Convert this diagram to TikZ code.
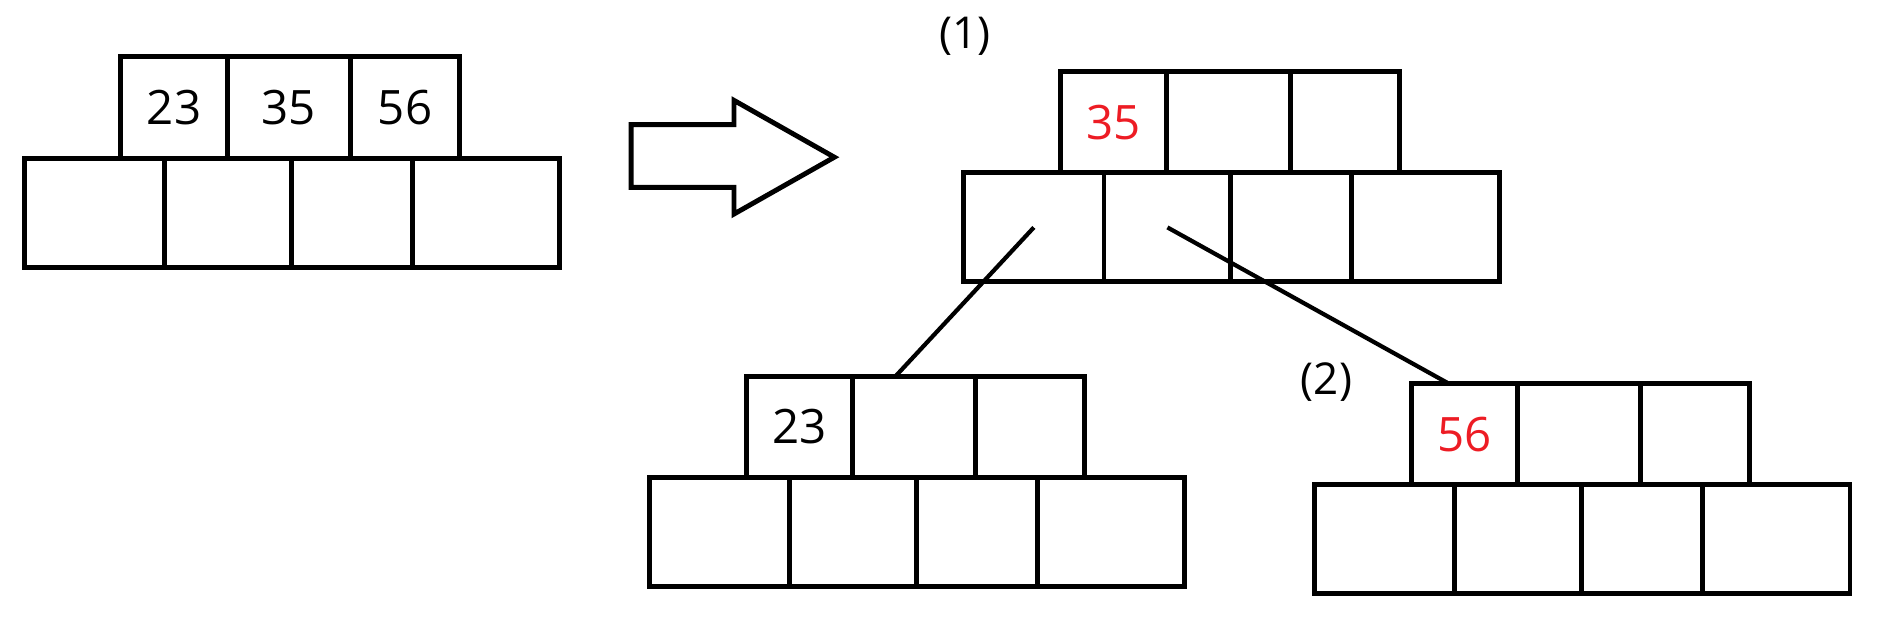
\documentclass[tikz,border=0pt]{standalone}
\usepackage{fontspec}
\setmainfont{Open Sans}
\usetikzlibrary{positioning,calc}
\definecolor{keyred}{RGB}{237,28,36}
\tikzset{
  cell/.style={draw, line width=2.8pt, inner sep=0pt, outer sep=0pt},
  tcell/.style={cell, minimum height=2.03cm, font=\fontsize{27}{30}\selectfont},
  bcell/.style={cell, minimum height=2.18cm},
  link/.style={line width=2.4pt},
  bigarrow/.style={draw, line width=2.8pt, line join=miter},
  tag/.style={font=\fontsize{25}{28}\selectfont}
}
% one node of the tree: name, upper left corner of the lower row, keys, key colour
\newcommand{\keyblock}[6]{%
  \node[bcell, minimum width=2.805cm, anchor=north west] (#1b1) at #2 {};
  \node[bcell, minimum width=2.539cm, right=0pt of #1b1] (#1b2) {};
  \node[bcell, minimum width=2.418cm, right=0pt of #1b2] (#1b3) {};
  \node[bcell, minimum width=2.950cm, right=0pt of #1b3] (#1b4) {};
  \node[tcell, minimum width=2.128cm, anchor=south west, text=#6] (#1t1) at ($(#1b1.north west)+(80,0)$) {#3};
  \node[tcell, minimum width=2.467cm, right=0pt of #1t1] (#1t2) {#4};
  \node[tcell, minimum width=2.177cm, right=0pt of #1t2] (#1t3) {#5};
}

\begin{document}
\begin{tikzpicture}[x=0.024184cm, y=-0.024184cm]
  \useasboundingbox (0,0) rectangle (1568,520);

  % before the split
  \keyblock{A}{(20,131)}{23}{35}{56}{black}

  \draw[bigarrow] (522,103) -- (607,103) -- (607,83) -- (690,130) -- (607,177) -- (607,155) -- (522,155) -- cycle;

  % after the split
  \node[tag] (one) at (798,30) {(1)};
  \keyblock{B}{(797,143)}{35}{}{}{keyred}
  \keyblock{C}{(537,395)}{23}{}{}{black}
  \keyblock{D}{(1087,401)}{56}{}{}{keyred}
  \node[tag] (two) at (1097,316) {(2)};

  \draw[link] (Bb1.center) -- ($(Ct2.north west)!0.35!(Ct2.north east)$);
  \draw[link] (Bb2.center) -- ($(Dt1.north west)!0.35!(Dt1.north east)$);
\end{tikzpicture}
\end{document}
